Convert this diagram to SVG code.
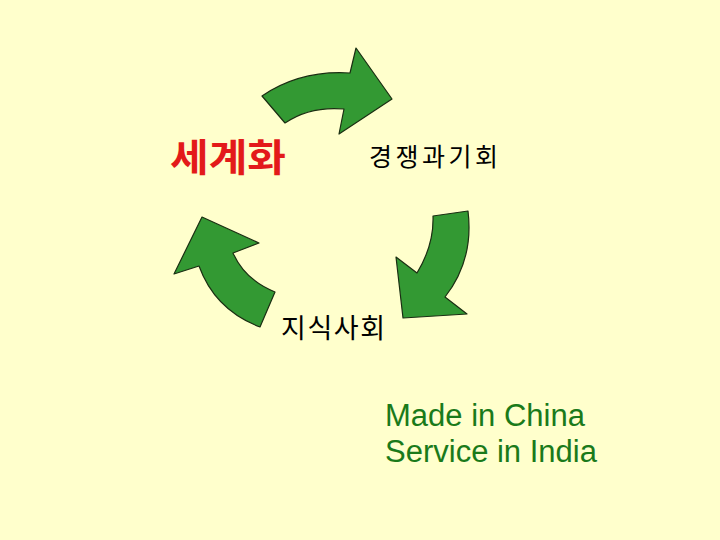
<svg xmlns="http://www.w3.org/2000/svg" width="720" height="540" viewBox="0 0 720 540">
<style>
.arrow{fill:#339933;stroke:#1a2e12;stroke-width:1.2;stroke-linejoin:round}
.kr{font-family:"Noto Sans CJK KR","Noto Sans",sans-serif}
.en{font-family:"Liberation Sans",Arial,sans-serif;font-size:31px;fill:#1a7a1a}
</style>
<rect width="720" height="540" fill="#FFFFCC"/>
<g id="connectors">
<path id="arrow-top" class="arrow" d="M262,96 Q300,70 350,73 L356,48 L392,99 L339,134 L344,109 Q310,106 285,123 Z"/>
<path id="arrow-right" class="arrow" d="M433,216 L468,211 Q474,260 445,297 L467,314 L403,318 L396,257 L417,273 Q434,245 433,216 Z"/>
<path id="arrow-left" class="arrow" d="M202,217 L259,243 L233,253 Q245,280 275,292 L260,327 Q215,310 199,266 L174,274 Z"/>
</g>
<g id="node-globalization">
<text class="kr" x="170" y="171" font-size="38" font-weight="bold" fill="#E31A1A" textLength="116" lengthAdjust="spacingAndGlyphs">세계화</text>
</g>
<g id="node-competition">
<text class="kr" x="369" y="166" font-size="25" fill="#000" textLength="129" lengthAdjust="spacing">경쟁과기회</text>
</g>
<g id="node-knowledge">
<text class="kr" x="281" y="338" font-size="27" fill="#000" textLength="104" lengthAdjust="spacing">지식사회</text>
</g>
<g id="note">
<text class="en" x="385" y="426">Made in China</text>
<text class="en" x="385" y="462">Service in India</text>
</g>
</svg>
